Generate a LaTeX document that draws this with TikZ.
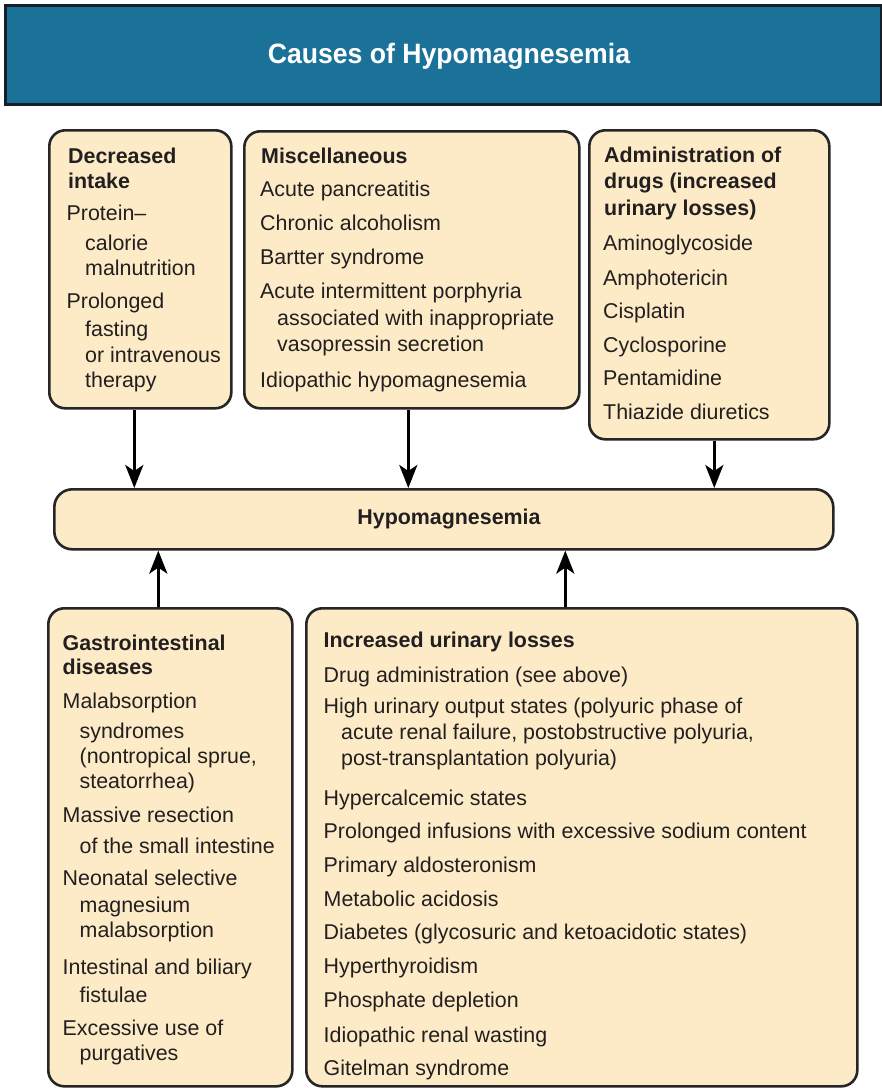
\documentclass[tikz,border=0pt]{standalone}
\usepackage{fontspec}
\setmainfont{Liberation Sans}
\newfontfamily\titlefont{Liberation Sans}[FakeStretch=0.95]
\usetikzlibrary{arrows.meta}
\definecolor{headblue}{RGB}{27,114,152}
\definecolor{headline}{RGB}{22,30,40}
\definecolor{cream}{RGB}{252,235,198}
\definecolor{edge}{RGB}{38,38,38}
\definecolor{ink}{RGB}{35,31,32}
\begin{document}
\begin{tikzpicture}[x=1pt,y=-1pt,
  panel/.style={rectangle, draw=edge, line width=2.6pt, fill=cream,
    rounded corners=16pt, inner sep=0pt, anchor=north west},
  item/.style={anchor=base west, inner sep=0pt, text=ink,
    font=\fontsize{21.4}{26}\selectfont},
  head/.style={item, font=\fontsize{21.4}{26}\selectfont\bfseries},
  arr/.style={draw=black, line width=3pt,
    -{Stealth[length=23pt,width=18pt,inset=6pt]}}]
\useasboundingbox[fill=white] (0,0) rectangle (882,1088);

% title banner
\node[rectangle, draw=headline, line width=3pt, fill=headblue, anchor=north west,
  minimum width=876pt, minimum height=99pt, inner sep=0pt] (banner) at (4,4) {};
\node[anchor=base, inner sep=0pt, text=white,
  font=\titlefont\bfseries\fontsize{28}{32}\selectfont] (title) at (449,63)
  {Causes of Hypomagnesemia};

% boxes
\node[panel, minimum width=182pt, minimum height=278pt] (intake) at (48,129) {};
\node[panel, minimum width=335pt, minimum height=277pt] (misc) at (243,130) {};
\node[panel, minimum width=240pt, minimum height=309pt] (drugs) at (588,129) {};
\node[panel, rounded corners=18pt, minimum width=779pt, minimum height=60pt] (hypo) at (53,488) {};
\node[panel, minimum width=244pt, minimum height=478pt] (gi) at (47,607) {};
\node[panel, minimum width=551pt, minimum height=478pt] (urin) at (305,607) {};

% connectors
\draw[arr] ([xshift=-6pt]intake.south) -- ([xshift=-6pt]intake.south |- hypo.north);
\draw[arr] ([xshift=-3.5pt]misc.south) -- ([xshift=-3.5pt]misc.south |- hypo.north);
\draw[arr] ([xshift=5pt]drugs.south) -- ([xshift=5pt]drugs.south |- hypo.north);
\draw[arr] ([xshift=-12pt]gi.north) -- ([xshift=-12pt]gi.north |- hypo.south);
\draw[arr] ([xshift=-16.5pt]urin.north) -- ([xshift=-16.5pt]urin.north |- hypo.south);

% decreased intake
\node[head] (i1) at (68,163) {Decreased};
\node[head] (i2) at (68,188) {intake};
\node[item] (i3) at (66.5,220) {Protein–};
\node[item] (i4) at (85,250) {calorie};
\node[item] (i5) at (85,275) {malnutrition};
\node[item] (i6) at (66.5,308) {Prolonged};
\node[item] (i7) at (85,336) {fasting};
\node[item] (i8) at (85,362) {or intravenous};
\node[item] (i9) at (85,387) {therapy};

% miscellaneous
\node[head] (m1) at (261,163) {Miscellaneous};
\node[item] (m2) at (260,196) {Acute pancreatitis};
\node[item] (m3) at (260,230) {Chronic alcoholism};
\node[item] (m4) at (260,264) {Bartter syndrome};
\node[item] (m5) at (260,298) {Acute intermittent porphyria};
\node[item] (m6) at (277,325) {associated with inappropriate};
\node[item] (m7) at (277,351) {vasopressin secretion};
\node[item] (m8) at (260,387) {Idiopathic hypomagnesemia};

% drugs
\node[head] (d1) at (604,162) {Administration of};
\node[head] (d2) at (604,188) {drugs (increased};
\node[head] (d3) at (604,215) {urinary losses)};
\node[item] (d4) at (603,250) {Aminoglycoside};
\node[item] (d5) at (603,285) {Amphotericin};
\node[item] (d6) at (603,318) {Cisplatin};
\node[item] (d7) at (603,352) {Cyclosporine};
\node[item] (d8) at (603,385) {Pentamidine};
\node[item] (d9) at (603,419) {Thiazide diuretics};

% central result
\node[head, anchor=base] (h1) at (449,524) {Hypomagnesemia};

% gastrointestinal
\node[head] (g1) at (62.5,650) {Gastrointestinal};
\node[head] (g2) at (62.5,674) {diseases};
\node[item] (g3) at (62.5,708) {Malabsorption};
\node[item] (g4) at (79.5,738) {syndromes};
\node[item] (g5) at (79.5,763) {(nontropical sprue,};
\node[item] (g6) at (79.5,788) {steatorrhea)};
\node[item] (g7) at (62.5,822) {Massive resection};
\node[item] (g8) at (79.5,853) {of the small intestine};
\node[item] (g9) at (62.5,885) {Neonatal selective};
\node[item] (g10) at (79.5,912) {magnesium};
\node[item] (g11) at (79.5,937) {malabsorption};
\node[item] (g12) at (62.5,974) {Intestinal and biliary};
\node[item] (g13) at (79.5,1002) {fistulae};
\node[item] (g14) at (62.5,1035) {Excessive use of};
\node[item] (g15) at (79.5,1060) {purgatives};

% urinary losses
\node[head] (u1) at (323.5,647) {Increased urinary losses};
\node[item] (u2) at (323.5,682) {Drug administration (see above)};
\node[item] (u3) at (323.5,713) {High urinary output states (polyuric phase of};
\node[item] (u4) at (341,739) {acute renal failure, postobstructive polyuria,};
\node[item] (u5) at (341,765) {post-transplantation polyuria)};
\node[item] (u6) at (323.5,805) {Hypercalcemic states};
\node[item] (u7) at (323.5,838) {Prolonged infusions with excessive sodium content};
\node[item] (u8) at (323.5,872) {Primary aldosteronism};
\node[item] (u9) at (323.5,906) {Metabolic acidosis};
\node[item] (u10) at (323.5,939) {Diabetes (glycosuric and ketoacidotic states)};
\node[item] (u11) at (323.5,973) {Hyperthyroidism};
\node[item] (u12) at (323.5,1007) {Phosphate depletion};
\node[item] (u13) at (323.5,1042) {Idiopathic renal wasting};
\node[item] (u14) at (323.5,1075) {Gitelman syndrome};
\end{tikzpicture}
\end{document}
